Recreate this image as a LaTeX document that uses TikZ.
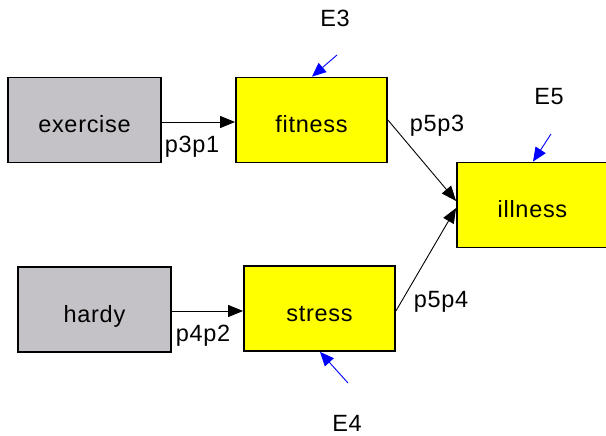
\documentclass[tikz,border=0pt]{standalone}
\usepackage{fontspec}
\setmainfont[LetterSpace=3]{Liberation Sans}
\usetikzlibrary{arrows.meta}
\definecolor{boxgray}{RGB}{196,194,198}
\definecolor{boxyellow}{RGB}{255,255,0}
\definecolor{errblue}{RGB}{0,0,255}
\begin{document}
\begin{tikzpicture}[x=1pt,y=-1pt,
  every node/.style={font=\fontsize{23.5}{26}\selectfont},
  varbox/.style={draw=black,line width=1.8pt,minimum height=85pt,inner sep=0pt,text height=25pt,text depth=0pt},
  exog/.style={varbox,fill=boxgray,minimum width=153pt},
  endog/.style={varbox,fill=boxyellow,minimum width=151pt},
  path/.style={draw=black,line width=0.9pt,-{Triangle[length=15pt,width=12pt]}},
  err/.style={draw=errblue,line width=0.9pt,-{Triangle[length=14pt,width=12pt]}},
  lbl/.style={inner sep=0pt}]
\useasboundingbox (0,0) rectangle (606,436);
% variables
\node[exog]  (exercise) at (84.5,120) {exercise};
\node[endog] (fitness)  at (311.5,120) {fitness};
\node[endog] (illness)  at (532.5,205) {illness};
\node[exog]  (hardy)    at (94.5,309.5) {hardy};
\node[endog] (stress)   at (319.5,308.5) {stress};
% structural paths
\draw[path] (exercise.east |- 0,122) -- (fitness.west |- 0,122);
\draw[path] (hardy.east |- 0,311) -- (stress.west |- 0,311);
\draw[path] (fitness.east) -- (illness.west |- 0,201);
\draw[path] (stress.east |- 0,311) -- (illness.west |- 0,208);
\node[lbl] (l31) at (192,147) {p3p1};
\node[lbl] (l42) at (203,336) {p4p2};
\node[lbl] (l53) at (437,126) {p5p3};
\node[lbl] (l54) at (441,302) {p5p4};
% error terms
\node[lbl] (e3) at (335,18) {E3};
\node[lbl] (e5) at (549,97) {E5};
\node[lbl] (e4) at (347,423) {E4};
\coordinate (e3s) at (337,55);
\coordinate (e5s) at (551,134);
\coordinate (e4s) at (348,383);
\draw[err] (e3s) -- (fitness.north -| 312,0);
\draw[err] (e5s) -- (illness.north -| 533,0);
\draw[err] (e4s) -- (stress.south -| 320,0);
\end{tikzpicture}
\end{document}
